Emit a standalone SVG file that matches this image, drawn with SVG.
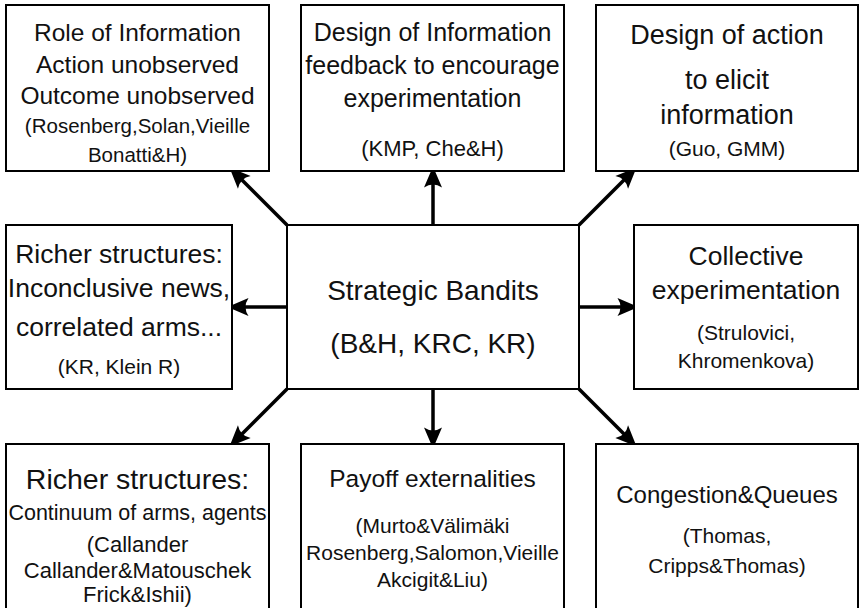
<svg xmlns="http://www.w3.org/2000/svg" width="860" height="608" viewBox="0 0 860 608">
<style>
.box{fill:#fff;stroke:#000;stroke-width:2}
text{font-family:"Liberation Sans",Arial,sans-serif;fill:#111;text-anchor:middle}
.cn{stroke:#000;stroke-width:3.5;fill:none;marker-end:url(#ah)}
</style>
<defs>
<marker id="ah" markerUnits="userSpaceOnUse" markerWidth="30" markerHeight="30" refX="0" refY="0" viewBox="-10 -10 20 20" orient="auto" overflow="visible">
<path d="M9,0 L-5,-6 Q-1,0 -5,6 Z" fill="#000"/>
</marker>
</defs>
<rect width="860" height="608" fill="#fff"/>
<g id="connectors">
<line class="cn" x1="287" y1="225" x2="239" y2="177"/>
<line class="cn" x1="433" y1="225" x2="433" y2="180"/>
<line class="cn" x1="579" y1="225" x2="627" y2="177"/>
<line class="cn" x1="287" y1="307" x2="241" y2="307"/>
<line class="cn" x1="579" y1="307" x2="625" y2="307"/>
<line class="cn" x1="287" y1="389" x2="239" y2="437"/>
<line class="cn" x1="433" y1="389" x2="433" y2="435"/>
<line class="cn" x1="579" y1="389" x2="627" y2="437"/>
</g>
<g id="role-of-information">
<rect class="box" x="6" y="5" width="263" height="166"/>
<text x="137.5" y="41" font-size="24.5">Role of Information</text>
<text x="137.5" y="73" font-size="24.5">Action unobserved</text>
<text x="137.5" y="104" font-size="24.5">Outcome unobserved</text>
<text x="137.5" y="133" font-size="20.5">(Rosenberg,Solan,Vieille</text>
<text x="137.5" y="162" font-size="20.5">Bonatti&amp;H)</text>
</g>
<g id="design-of-information">
<rect class="box" x="301" y="5" width="263" height="166"/>
<text x="432.5" y="41" font-size="25">Design of Information</text>
<text x="432.5" y="74" font-size="25">feedback to encourage</text>
<text x="432.5" y="107" font-size="25">experimentation</text>
<text x="432.5" y="156" font-size="22">(KMP, Che&amp;H)</text>
</g>
<g id="design-of-action">
<rect class="box" x="596" y="5" width="262" height="166"/>
<text x="727" y="44" font-size="27">Design of action</text>
<text x="727" y="89" font-size="27">to elicit</text>
<text x="727" y="124" font-size="27">information</text>
<text x="727" y="156" font-size="21">(Guo, GMM)</text>
</g>
<g id="richer-structures-1">
<rect class="box" x="6" y="225" width="226" height="164"/>
<text x="119" y="263" font-size="26.5">Richer structures:</text>
<text x="119" y="297" font-size="26.5">Inconclusive news,</text>
<text x="119" y="336" font-size="26.5">correlated arms...</text>
<text x="119" y="374" font-size="21">(KR, Klein R)</text>
</g>
<g id="strategic-bandits">
<rect class="box" x="287" y="225" width="292" height="164"/>
<text x="433" y="300" font-size="28">Strategic Bandits</text>
<text x="433" y="353" font-size="28">(B&amp;H, KRC, KR)</text>
</g>
<g id="collective-experimentation">
<rect class="box" x="634" y="225" width="224" height="164"/>
<text x="746" y="265" font-size="26.5">Collective</text>
<text x="746" y="299" font-size="26.5">experimentation</text>
<text x="746" y="340" font-size="21">(Strulovici,</text>
<text x="746" y="368" font-size="21">Khromenkova)</text>
</g>
<g id="richer-structures-2">
<rect class="box" x="6" y="444" width="263" height="170"/>
<text x="137.5" y="489" font-size="28.5">Richer structures:</text>
<text x="137.5" y="520" font-size="21.5">Continuum of arms, agents</text>
<text x="137.5" y="552" font-size="22">(Callander</text>
<text x="137.5" y="578" font-size="22">Callander&amp;Matouschek</text>
<text x="137.5" y="602" font-size="22">Frick&amp;Ishii)</text>
</g>
<g id="payoff-externalities">
<rect class="box" x="301" y="444" width="263" height="170"/>
<text x="432.5" y="487" font-size="24.5">Payoff externalities</text>
<text x="432.5" y="533" font-size="21">(Murto&amp;Välimäki</text>
<text x="432.5" y="560" font-size="21">Rosenberg,Salomon,Vieille</text>
<text x="432.5" y="587" font-size="21">Akcigit&amp;Liu)</text>
</g>
<g id="congestion-queues">
<rect class="box" x="596" y="444" width="262" height="170"/>
<text x="727" y="503" font-size="24">Congestion&amp;Queues</text>
<text x="727" y="543" font-size="21">(Thomas,</text>
<text x="727" y="573" font-size="21">Cripps&amp;Thomas)</text>
</g>
</svg>
